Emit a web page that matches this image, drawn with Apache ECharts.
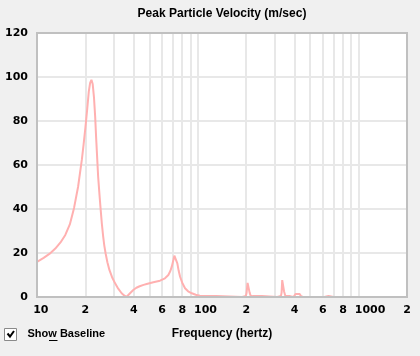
<!DOCTYPE html>
<html>
<head>
<meta charset="utf-8">
<script src="https://cdn.jsdelivr.net/npm/echarts@6/dist/echarts.min.js"></script>
<style>
html,body{margin:0;padding:0;background:#f0f0f0;}
#chart{width:420px;height:356px;}
</style>
</head>
<body>
<div id="chart"></div>
<script>
// ---- data ----
var freqHz = [10, 11, 12, 13, 14, 15, 16, 17, 18, 19, 19.5, 20, 20.5, 21, 21.4, 21.8, 22.2, 22.6, 23.0, 23.3, 24.0, 24.5, 24.9, 25.3, 25.8, 26.2, 26.7, 27.4, 28.2, 29.3, 30.6, 32.0, 33.6, 35.0, 36.1, 37.0, 37.9, 39.7, 41.5, 43.5, 46, 48.1, 52.9, 58.2, 62.5, 65.6, 67.5, 68.9, 70.5, 71.5, 72.2, 73.0, 74.6, 76, 77.6, 80, 83.3, 87, 91.8, 97, 103, 110, 119, 130, 133, 189, 192, 199, 201, 204, 207, 210, 213, 220, 250, 253, 312, 315, 329, 332, 335, 339, 344, 350, 375, 378, 394, 398, 405, 430, 438, 448, 451, 612, 618, 650, 654, 699, 703, 716, 720, 2000];
var velocity = [16.0, 17.8, 19.7, 22.0, 24.8, 28.2, 33.0, 40.5, 50.0, 62.3, 69.5, 77.0, 85.0, 93.5, 97.3, 98.7, 96.8, 91.0, 82.0, 73.0, 54.7, 46.0, 39.5, 33.5, 27.4, 23.5, 19.9, 15.8, 12.3, 9.0, 6.2, 3.8, 1.7, 0.6, 0.1, 0.8, 1.7, 3.2, 4.2, 4.9, 5.5, 5.9, 6.7, 7.4, 8.5, 10.0, 11.8, 13.8, 16.8, 18.8, 19.6, 18.5, 15.3, 12.0, 9.2, 6.5, 4.0, 2.6, 1.7, 1.0, 0.6, 0.5, 0.4, 0.4, 0, 0, 0.4, 0.5, 1.8, 6.4, 6.5, 2.0, 0.6, 0.4, 0.4, 0, 0, 0.4, 0.5, 2.0, 7.7, 7.5, 2.5, 0.6, 0.4, 0, 0, 0.4, 1.4, 1.4, 0.4, 0.4, 0, 0, 0.5, 0.5, 0, 0, 0.5, 0.5, 0, 0];
var xLabelValues = [10, 20, 40, 60, 80, 100, 200, 400, 600, 800, 1000, 2000];
var xLabelTexts = ['10', '2', '4', '6', '8', '100', '2', '4', '6', '8', '1000', '2'];
var xGridValues = [20, 30, 40, 50, 60, 70, 80, 90, 100, 200, 300, 400, 500, 600, 700, 800, 900, 1000];
var yTicks = [0, 20, 40, 60, 80, 100, 120];
var titleText = 'Peak Particle Velocity (m/sec)';
var xAxisTitle = 'Frequency (hertz)';
var checkText = 'Show Baseline';

// ---- layout ----
var G = {left: 37, top: 33, width: 370, height: 264};
var tickFont = {fontFamily: 'DejaVu Sans', fontWeight: 'bold', fontSize: 11, color: '#000'};
var digitW = 7.66;

var seriesData = freqHz.map(function (f, i) { return [f, velocity[i]]; });
var xMin = xLabelValues[0], xMax = xLabelValues[xLabelValues.length - 1];

// rich styles: multi-digit labels keep their first digit centred on the tick
var rich = {};
[2, 3, 4].forEach(function (n) {
  rich['d' + n] = Object.assign({padding: [0, 0, 0, (n - 1) * digitW]}, tickFont);
});

var chart = echarts.init(document.getElementById('chart'), null, {renderer: 'canvas'});
chart.setOption({
  backgroundColor: '#f0f0f0',
  animation: false,
  grid: {left: G.left, top: G.top, width: G.width, height: G.height, show: true,
         backgroundColor: '#ffffff', borderWidth: 0},
  xAxis: [
    {type: 'log', logBase: 10, min: xMin, max: xMax, show: false},
    {type: 'value', position: 'bottom', min: Math.log10(xMin), max: Math.log10(xMax),
     axisLine: {show: false},
     axisTick: {show: false, customValues: xGridValues.map(function (v) { return Math.log10(v); })},
     splitLine: {show: true, lineStyle: {color: '#e8e8e8', width: 2}},
     axisLabel: Object.assign({
       margin: 8,
       customValues: xLabelValues.map(function (v) { return Math.log10(v); }),
       formatter: function (val) {
         var best = 0, d = Infinity;
         xLabelValues.forEach(function (v, i) { var dd = Math.abs(Math.log10(v) - val); if (dd < d) { d = dd; best = i; } });
         var t = xLabelTexts[best];
         return t.length > 1 ? '{d' + t.length + '|' + t + '}' : t;
       },
       rich: rich
     }, tickFont)
    }
  ],
  yAxis: {type: 'value', min: yTicks[0], max: yTicks[yTicks.length - 1], interval: 20,
    axisLine: {show: false}, axisTick: {show: false},
    splitLine: {show: true, lineStyle: {color: '#e8e8e8', width: 2}},
    axisLabel: Object.assign({margin: 9}, tickFont)
  },
  series: [{
    type: 'line', xAxisIndex: 0, yAxisIndex: 0, data: seriesData,
    showSymbol: false, symbol: 'none', smooth: false,
    lineStyle: {color: '#ffb0b0', width: 2}, z: 2
  }],
  graphic: [
    {type: 'rect', silent: true, z: 100,
     shape: {x: G.left, y: G.top, width: G.width, height: G.height},
     style: {fill: 'none', stroke: '#c0c0c0', lineWidth: 2}},
    {type: 'text', silent: true, x: G.left + G.width / 2, y: 13.5,
     style: {text: titleText, fontFamily: 'Liberation Sans', fontWeight: 'bold', fontSize: 12,
             fill: '#000', align: 'center', verticalAlign: 'middle'}},
    {type: 'text', silent: true, x: G.left + G.width / 2, y: 334,
     style: {text: xAxisTitle, fontFamily: 'Liberation Sans', fontWeight: 'bold', fontSize: 12,
             fill: '#000', align: 'center', verticalAlign: 'middle'}},
    {type: 'rect', silent: true, shape: {x: 4.5, y: 328.5, width: 12, height: 12},
     style: {fill: '#ffffff', stroke: '#8a8a8a', lineWidth: 1}},
    {type: 'polyline', silent: true, shape: {points: [[7.5, 333.5], [10, 336.5], [14, 331]]},
     style: {stroke: '#000', lineWidth: 2, fill: 'none'}},
    {type: 'text', silent: true, x: 27.5, y: 334,
     style: {text: checkText, fontFamily: 'Liberation Sans', fontWeight: 'bold', fontSize: 11,
             fill: '#000', align: 'left', verticalAlign: 'middle'}},
    {type: 'line', silent: true, shape: {x1: 49, y1: 340.5, x2: 57.5, y2: 340.5},
     style: {stroke: '#000', lineWidth: 1}}
  ]
});
</script>
</body>
</html>
